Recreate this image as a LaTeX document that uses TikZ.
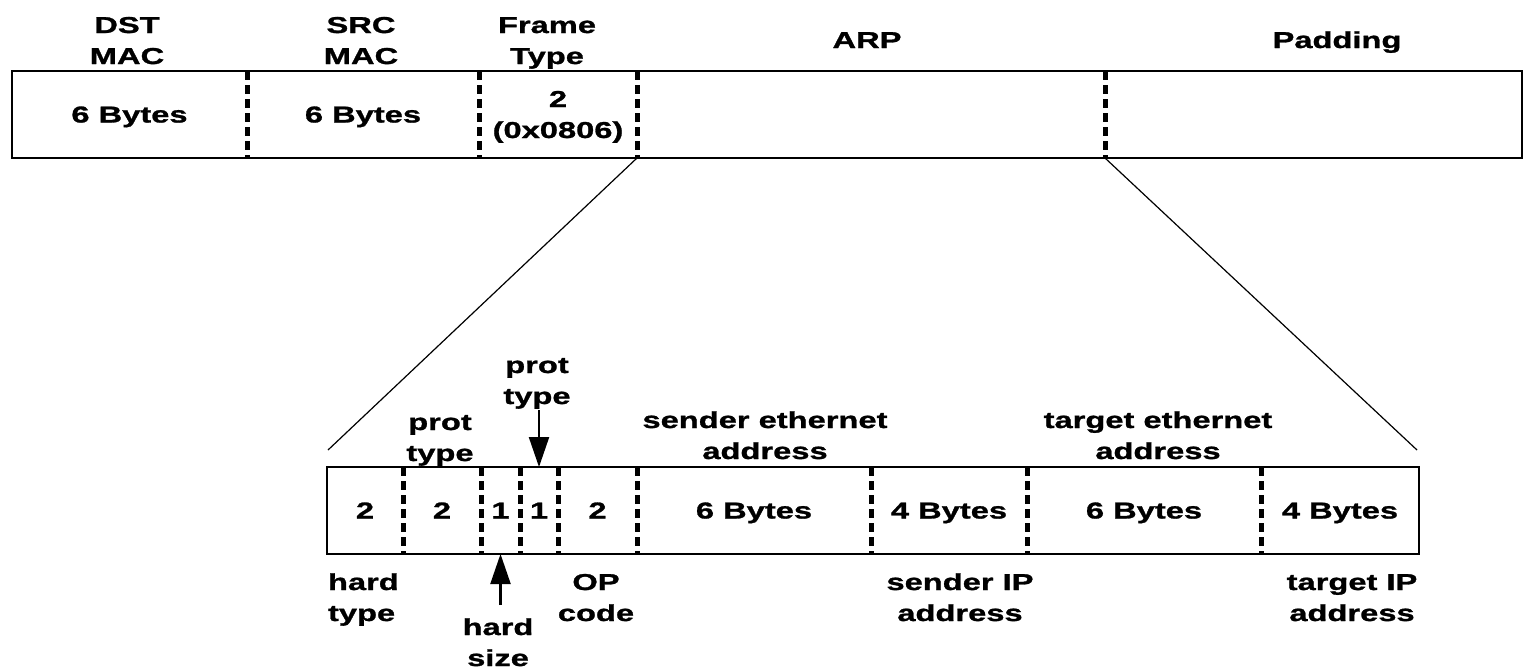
\documentclass[tikz,border=0pt]{standalone}
\usepackage{fontspec}
\setmainfont{Liberation Sans}[FakeStretch=1.42, BoldFeatures={FakeBold=1.2}]
\usetikzlibrary{arrows.meta}
\newcommand\twoline[2]{\vtop{\halign{\hfil##\hfil\cr#1\cr#2\cr}}}
\newcommand\twolinel[2]{\vtop{\halign{##\hfil\cr#1\cr#2\cr}}}
\begin{document}
\begin{tikzpicture}[x=0.5pt,y=-0.5pt,
  every node/.style={font=\fontsize{11.5pt}{15.5pt}\selectfont\bfseries, inner sep=0pt, outer sep=0pt},
  cell/.style={minimum height=43.5pt, text height=8pt, text depth=0pt},
  lbl/.style={anchor=base},
  box/.style={draw=black, line width=1pt},
  div/.style={line width=2.5pt, dash pattern=on 4.5pt off 2.5pt},
  zoomline/.style={line width=0.6pt},
  ptr/.style={line width=1.1pt, -{Triangle[length=15pt,width=10pt]}}]
\fill[white] (0,0) rectangle (1524,670);
\useasboundingbox (0,0) rectangle (1524,670);

% ---- Ethernet frame ----
\node[cell, minimum width=117.5pt] (dst) at (129.5,114.5) {6 Bytes};
\node[cell, minimum width=116pt]   (src) at (363,114.5) {6 Bytes};
\node[cell, minimum width=79pt, text depth=15.5pt] (ft) at (558,114.5) {\twoline{2}{(0x0806)}};
\node[cell, minimum width=234pt]   (arp) at (871,114.5) {};
\node[cell, minimum width=208.5pt] (pad) at (1313.5,114.5) {};
\draw[box] (dst.north west) rectangle (pad.south east);
\foreach \c in {dst,src,ft,arp}{\draw[div] (\c.north east) -- (\c.south east);}

\node[lbl] (dsth) at (127,33) {\twoline{DST}{MAC}};
\node[lbl] (srch) at (361,33) {\twoline{SRC}{MAC}};
\node[lbl] (fth)  at (547,33) {\twoline{Frame}{Type}};
\node[lbl] (arph) at (867,48) {ARP};
\node[lbl] (padh) at (1337,48) {Padding};

% ---- ARP packet ----
\node[cell, minimum width=38pt]   (ht)  at (365,510.5) {2};
\node[cell, minimum width=39pt]   (pt)  at (442,510.5) {2};
\node[cell, minimum width=19.5pt] (hs)  at (500.5,510.5) {1};
\node[cell, minimum width=19pt]   (ps)  at (539,510.5) {1};
\node[cell, minimum width=39.5pt] (op)  at (597.5,510.5) {2};
\node[cell, minimum width=117pt]  (sha) at (754,510.5) {6 Bytes};
\node[cell, minimum width=78pt]   (spa) at (949,510.5) {4 Bytes};
\node[cell, minimum width=117pt]  (tha) at (1144,510.5) {6 Bytes};
\node[cell, minimum width=79pt]   (tpa) at (1340,510.5) {4 Bytes};
\draw[box] (ht.north west) rectangle (tpa.south east);
\foreach \c in {ht,pt,hs,ps,op,sha,spa,tha}{\draw[div] (\c.north east) -- (\c.south east);}

% zoom lines
\coordinate (zl) at (328,450);
\coordinate (zr) at (1417,450);
\draw[zoomline] (ft.south east) -- (zl);
\draw[zoomline] (arp.south east) -- (zr);

% labels
\node[lbl] (ptl1) at (440,430) {\twoline{prot}{type}};
\node[lbl] (ptl2) at (537,373) {\twoline{prot}{type}};
\node[lbl] (sel)  at (765,428) {\twoline{sender ethernet}{address}};
\node[lbl] (tel)  at (1158,428) {\twoline{target ethernet}{address}};
\node[lbl, anchor=base west] (htl) at (328,590) {\twolinel{hard}{type}};
\node[lbl] (hsl)  at (498,635) {\twoline{hard}{size}};
\node[lbl] (opl)  at (596,590) {\twoline{OP}{code}};
\node[lbl] (sil)  at (960,590) {\twoline{sender IP}{address}};
\node[lbl] (til)  at (1352,590) {\twoline{target IP}{address}};

% pointers
\coordinate (pa) at (539,410);
\coordinate (hb) at (500.5,605);
\draw[ptr] (pa) -- (ps.north);
\draw[ptr] (hb) -- (hs.south);
\end{tikzpicture}
\end{document}
